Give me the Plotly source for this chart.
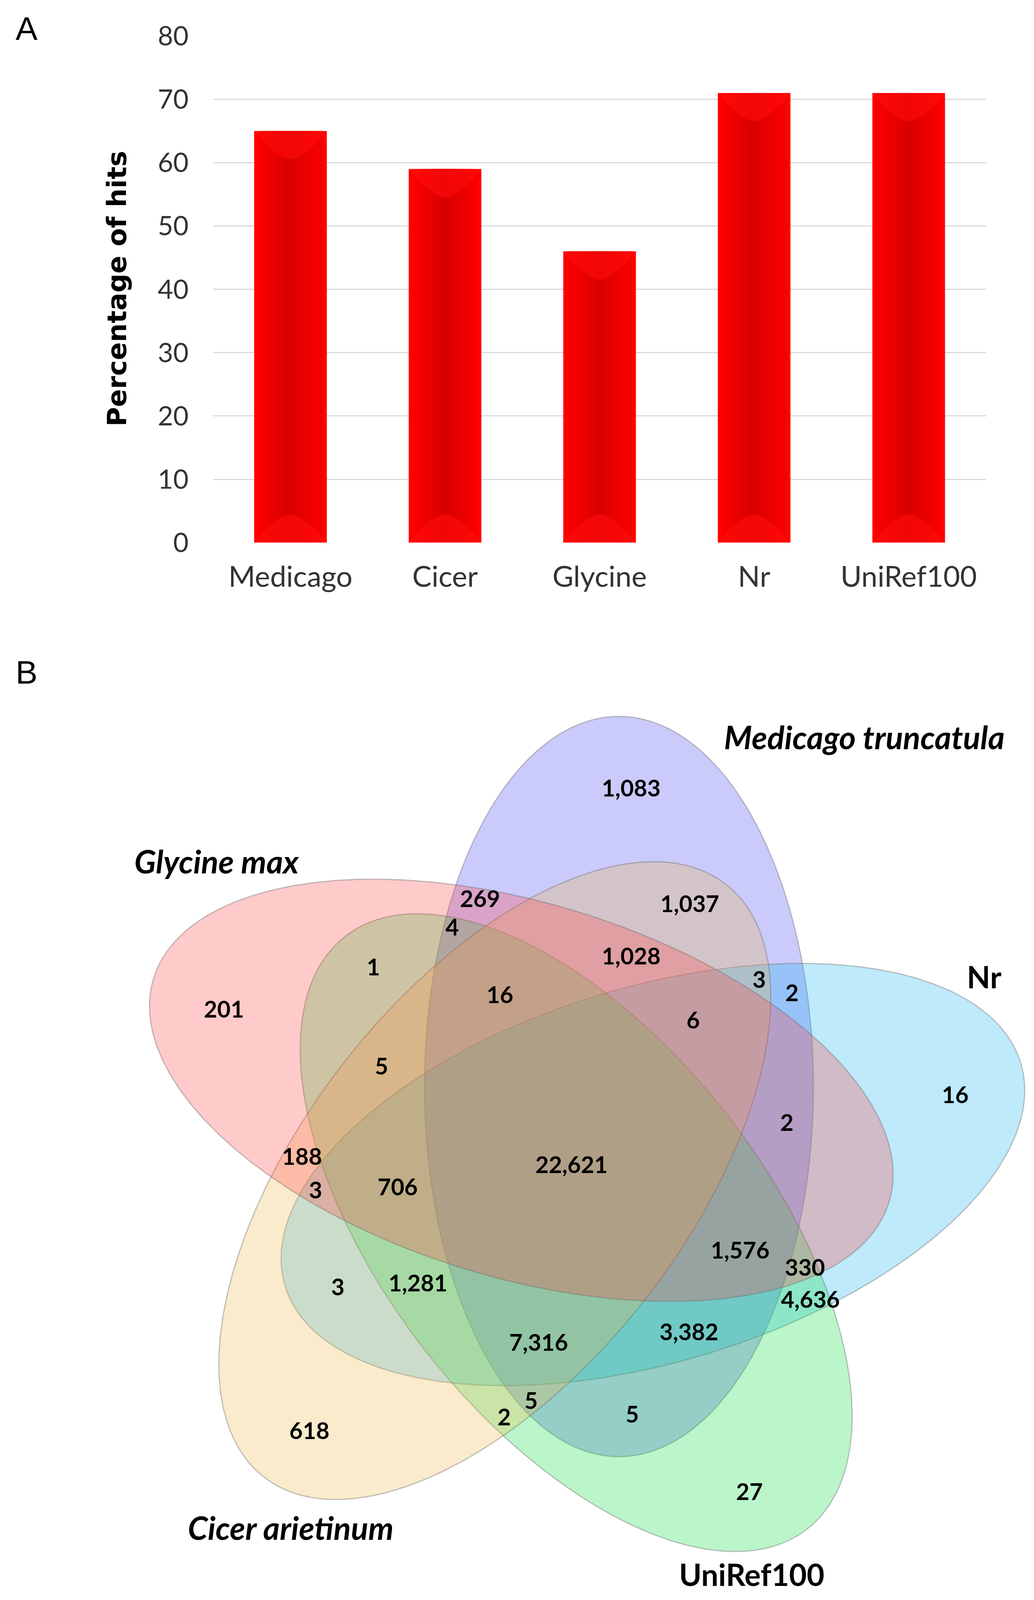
import numpy as np
import plotly.graph_objects as go

# ---------------- data ----------------
categories = ["Medicago", "Cicer", "Glycine", "Nr", "UniRef100"]
hit_pct = [65, 59, 46, 71, 71]
y_tick_vals = [0, 10, 20, 30, 40, 50, 60, 70, 80]

set_names = ["Medicago truncatula", "Glycine max", "Cicer arietinum", "UniRef100", "Nr"]
set_italic = [True, True, True, False, False]

region_counts = [1083, 269, 4, 1037, 1028, 1, 16, 201, 3, 2,
                 6, 5, 16, 2, 188, 22621, 3, 706, 1576, 330,
                 4636, 3, 1281, 7316, 3382, 5, 2, 5, 618, 27]

# ---------------- layout helpers (reference pixel space) ----------------
OFF = 8
W, H = 2648 - 2 * OFF, 4270 - 2 * OFF


def px_x(x):
    return (x - OFF) / W


def px_y(y):
    return 1 - (y - OFF) / H


# label positions for the regions (reference pixels)
region_xy = [(1616, 2102), (1229, 2397), (1158, 2473), (1766, 2411), (1616, 2550),
             (956, 2580), (1280, 2654), (573, 2692), (1944, 2613), (2028, 2648),
             (1775, 2722), (977, 2845), (2446, 2921), (2015, 2995), (773, 3085),
             (1463, 3107), (808, 3175), (1018, 3167), (1895, 3336), (2061, 3382),
             (2075, 3467), (865, 3434), (1070, 3423), (1379, 3582), (1764, 3554),
             (1360, 3737), (1291, 3781), (1619, 3773), (792, 3817), (1919, 3980)]
set_label_xy = [(2213, 1966), (555, 2298), (744, 4076), (1925, 4201), (2520, 2606)]

# ellipse geometry: symmetric 5-ellipse layout, ellipse k rotated by 72*k deg
G = (1467, 3077)
R_OFF = 213
PHI0 = 56.3
THETA0 = 90.0
SEMI_A, SEMI_B = 988, 498
rot_index = [0, 1, 2, 3, 4]  # Medicago, Glycine, Cicer, UniRef100, Nr
fill_rgb = [(66, 66, 241), (255, 66, 66), (237, 184, 76), (9, 219, 66), (23, 180, 241)]
ALPHA = 0.28
draw_order = [0, 4, 3, 2, 1]  # blue, cyan, green, orange, red on top

BAR_W = 0.47
CAP_DEPTH = 4.5  # bevel depth in axis units

fig = go.Figure()

# ---------------- panel A: bars ----------------
xpos = list(range(len(categories)))
n_layers = 8
for j in range(n_layers):
    w = BAR_W * (1 - j / n_layers)
    shade = int(255 - 36 * j / (n_layers - 1))
    fig.add_trace(go.Bar(
        x=xpos, y=hit_pct, width=w,
        marker=dict(color=f"rgb({shade},0,0)", line=dict(width=0)),
        xaxis="x", yaxis="y", showlegend=False,
        hoverinfo="skip" if j else "y",
    ))

# soft bevel caps (top and bottom of each bar), derived from the bar values
hw = BAR_W / 2
s = np.linspace(-1, 1, 41)
prof = 1 - np.abs(s) ** 1.6          # rounded V profile, 1 at the centre
cap_x, cap_y = [], []
for i, v in zip(xpos, hit_pct):
    xs = list(i + hw * s)
    cap_x += xs + [None]
    cap_y += list(v - CAP_DEPTH * prof) + [None]
    cap_x += xs + [None]
    cap_y += list(CAP_DEPTH * prof) + [None]
fig.add_trace(go.Scatter(
    x=cap_x, y=cap_y, mode="lines", fill="toself", fillcolor="rgba(255,12,12,0.6)",
    line=dict(width=0, color="rgba(0,0,0,0)"), xaxis="x", yaxis="y",
    showlegend=False, hoverinfo="skip",
))

# ---------------- panel B: venn ----------------
t = np.linspace(0, 2 * np.pi, 361)
for k in draw_order:
    r = rot_index[k]
    phi = np.radians(PHI0 + 72 * r)
    th = np.radians(THETA0 + 72 * r)
    cx = G[0] + R_OFF * np.cos(phi)
    cy = G[1] - R_OFF * np.sin(phi)
    xm = SEMI_A * np.cos(t) * np.cos(th) - SEMI_B * np.sin(t) * np.sin(th)
    ym = SEMI_A * np.cos(t) * np.sin(th) + SEMI_B * np.sin(t) * np.cos(th)
    rr, gg, bb = fill_rgb[k]
    fig.add_trace(go.Scatter(
        x=cx + xm, y=cy - ym, mode="lines", fill="toself",
        fillcolor=f"rgba({rr},{gg},{bb},{ALPHA})",
        line=dict(color="rgba(110,110,110,0.42)", width=3),
        xaxis="x2", yaxis="y2", showlegend=False, hoverinfo="skip",
        name=set_names[k],
    ))

annotations = []
for v, (x, y) in zip(region_counts, region_xy):
    annotations.append(dict(x=x, y=y, xref="x2", yref="y2", text=f"<b>{v:,}</b>",
                            showarrow=False, font=dict(family="Lato", size=59, color="black")))
for name, it, (x, y) in zip(set_names, set_italic, set_label_xy):
    txt = f"<b><i>{name}</i></b>" if it else f"<b>{name}</b>"
    annotations.append(dict(x=x, y=y, xref="x2", yref="y2", text=txt, showarrow=False,
                            font=dict(family="Lato", size=82 if it else 78, color="black")))

# panel letters and y title
for letter, (lx, ly) in zip(["A", "B"], [(68, 76), (68, 1794)]):
    annotations.append(dict(x=px_x(lx), y=px_y(ly), xref="paper", yref="paper", text=letter,
                            xanchor="center", yanchor="middle", showarrow=False,
                            font=dict(family="Liberation Sans", size=84, color="black")))
annotations.append(dict(x=px_x(300), y=px_y(770), xref="paper", yref="paper",
                        xanchor="center", yanchor="middle",
                        text="<b>Percentage of hits</b>", textangle=-90, showarrow=False,
                        font=dict(family="DejaVu Sans", size=68, color="black")))

VENN_D = 0.62
fig.update_layout(
    autosize=True, margin=dict(l=0, r=0, t=0, b=0, pad=0, autoexpand=False),
    paper_bgcolor="white", plot_bgcolor="white",
    barmode="overlay", showlegend=False,
    xaxis=dict(domain=[px_x(546), px_x(2525)], range=[-0.5, len(categories) - 0.5],
               tickvals=xpos, ticktext=categories,
               showgrid=False, zeroline=False, showline=False,
               ticks="", tickfont=dict(family="Lato", size=74, color="#333333"),
               ticklabelstandoff=38, fixedrange=True, automargin=False),
    yaxis=dict(domain=[px_y(1448), px_y(96)], range=[0, 80], tickvals=y_tick_vals,
               showgrid=True, gridcolor="#D9D9D9", gridwidth=3, zeroline=False, showline=False,
               ticks="", tickfont=dict(family="Lato", size=68, color="#333333"),
               ticklabelstandoff=62, fixedrange=True, automargin=False),
    xaxis2=dict(domain=[0, 1], range=[OFF, OFF + W], visible=False, fixedrange=True,
                automargin=False),
    yaxis2=dict(domain=[0, VENN_D], range=[OFF + H, OFF + H - VENN_D * H], visible=False,
                fixedrange=True, automargin=False),
    annotations=annotations,
)

fig.write_html("out.html")
